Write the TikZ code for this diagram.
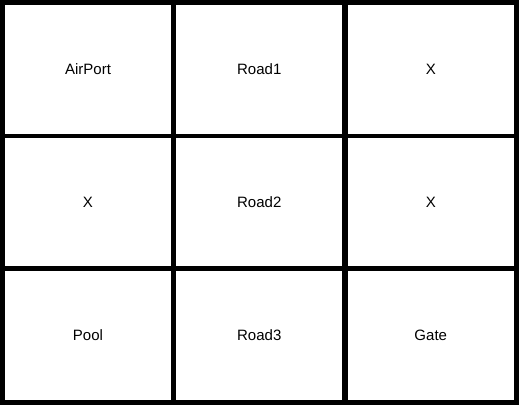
\documentclass[tikz,border=0pt]{standalone}
\usepackage{fontspec}
\setmainfont{Liberation Sans}
\begin{document}
\begin{tikzpicture}[x=1pt,y=-1pt,
  cell/.style={draw=black,line width=4.6pt,minimum width=171pt,minimum height=133pt,inner sep=0pt,font=\fontsize{15pt}{18pt}\selectfont,anchor=center}]
\useasboundingbox (0,0) rectangle (519,405);
\fill[white] (0,0) rectangle (519,405);
\node[cell,minimum height=133.3pt] (c11) at (88,69.15) {AirPort};
\node[cell,minimum height=133.3pt] (c12) at (259.25,69.15) {Road1};
\node[cell,minimum height=133.3pt] (c13) at (430.75,69.15) {X};
\node[cell,minimum height=132.5pt] (c21) at (88,202.05) {X};
\node[cell,minimum height=132.5pt] (c22) at (259.25,202.05) {Road2};
\node[cell,minimum height=132.5pt] (c23) at (430.75,202.05) {X};
\node[cell,minimum height=134.2pt] (c31) at (88,335.4) {Pool};
\node[cell,minimum height=134.2pt] (c32) at (259.25,335.4) {Road3};
\node[cell,minimum height=134.2pt] (c33) at (430.75,335.4) {Gate};
\end{tikzpicture}
\end{document}
